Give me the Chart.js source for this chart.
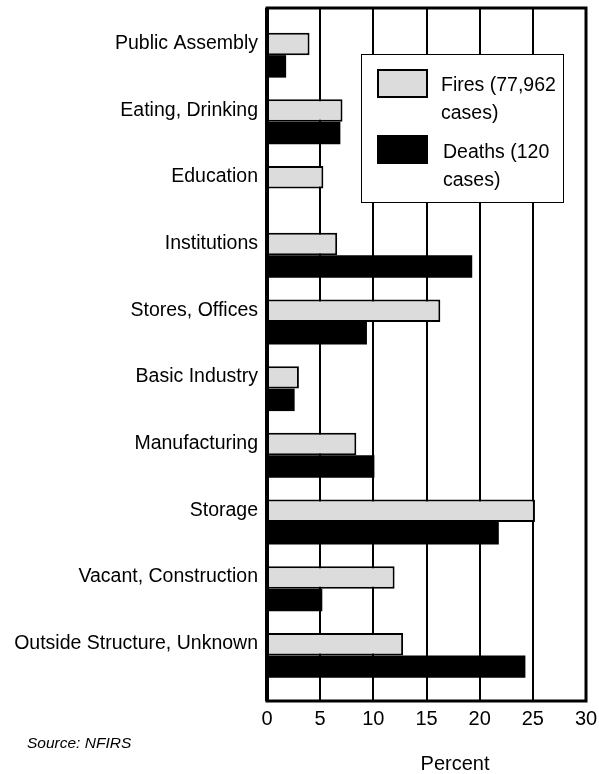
<!DOCTYPE html>
<html>
<head>
<meta charset="utf-8">
<script src="https://cdn.jsdelivr.net/npm/chart.js@4.4.1/dist/chart.umd.min.js"></script>
<style>
  html, body { margin: 0; padding: 0; background: #fff; }
  #wrap { width: 599px; height: 774px; position: relative; }
</style>
</head>
<body>
<div id="wrap"><canvas id="fireChart"></canvas></div>
<script>
// Categorias e valores (percentual)
const categories = [
  "Public Assembly",
  "Eating, Drinking",
  "Education",
  "Institutions",
  "Stores, Offices",
  "Basic Industry",
  "Manufacturing",
  "Storage",
  "Vacant, Construction",
  "Outside Structure, Unknown",
];
const firesPct = [4.0, 7.1, 5.3, 6.6, 16.3, 3.0, 8.4, 25.2, 12.0, 12.8];
const deathsPct = [1.8, 6.9, 0, 19.3, 9.4, 2.6, 10.1, 21.8, 5.2, 24.3];
const xTicks = [0, 5, 10, 15, 20, 25, 30];
const legendLines = [
  ["Fires (77,962", "cases)"],
  ["Deaths (120", "cases)"],
];

const FONT = "'Liberation Sans', Arial, sans-serif";

// moldura, legenda e textos extras
const extras = {
  id: "extras",
  afterDatasetsDraw(chart) {
    const { ctx, chartArea: a } = chart;
    ctx.save();
    ctx.strokeStyle = "#000";
    ctx.lineWidth = 3;
    ctx.strokeRect(a.left, a.top, a.right - a.left, a.bottom - a.top);
    ctx.lineWidth = 4;
    ctx.beginPath();
    ctx.moveTo(a.left, a.top);
    ctx.lineTo(a.left, a.bottom);
    ctx.stroke();

    // legenda
    ctx.fillStyle = "#fff";
    ctx.fillRect(361, 54.5, 203, 148);
    ctx.lineWidth = 1;
    ctx.strokeRect(361.5, 54.5, 202, 148);

    const colors = ["#dcdcdc", "#000"];
    const boxY = [69, 135];
    const textY = [[86, 114], [153, 181]];
    const textX = [441, 443];
    ctx.font = "19.5px " + FONT;
    ctx.textBaseline = "middle";
    ctx.textAlign = "left";
    legendLines.forEach((lines, i) => {
      ctx.fillStyle = colors[i];
      ctx.fillRect(377, boxY[i], 51, 29);
      ctx.strokeStyle = "#000";
      ctx.lineWidth = 2;
      ctx.strokeRect(378, boxY[i] + 1, 49, 27);
      ctx.fillStyle = "#000";
      lines.forEach((t, j) => ctx.fillText(t, textX[i], textY[i][j]));
    });

    ctx.font = "20px " + FONT;
    ctx.textAlign = "center";
    ctx.fillText("Percent", 455, 764);
    ctx.font = "italic 15.5px " + FONT;
    ctx.textAlign = "left";
    ctx.fillText("Source: NFIRS", 27, 744);
    ctx.restore();
  },
};

const ctxChart = document.getElementById("fireChart").getContext("2d");

const config = {
  type: "bar",
  data: {
    datasets: [
      {
        label: "Fires",
        data: firesPct.map((v, i) => ({ x: v, y: i })),
        backgroundColor: "#dcdcdc",
        borderColor: "#000",
        borderWidth: 2,
      },
      {
        label: "Deaths",
        data: deathsPct.map((v, i) => ({ x: v, y: i })),
        backgroundColor: "#000",
        borderWidth: 0,
      },
    ],
  },
  options: {
    indexAxis: "y",
    responsive: false,
    animation: false,
    categoryPercentage: 0.674,
    barPercentage: 1,
    layout: { padding: { top: 8, right: 13, left: 0, bottom: 0 } },
    plugins: { legend: { display: false }, tooltip: { enabled: false } },
    scales: {
      x: {
        type: "linear",
        min: 0,
        max: 30,
        afterBuildTicks: (axis) => {
          axis.ticks = xTicks.map((v) => ({ value: v }));
        },
        afterFit: (s) => {
          s.height = 73;
          s.paddingLeft = 0;
          s.paddingRight = 0;
        },
        grid: { color: "#000", lineWidth: 2, drawTicks: false },
        border: { display: false },
        ticks: {
          color: "#000",
          padding: 6,
          font: { family: FONT, size: 20 },
        },
      },
      y: {
        type: "linear",
        reverse: true,
        offset: false,
        min: -0.707,
        max: 9.684,
        afterBuildTicks: (axis) => {
          axis.ticks = categories.map((c, i) => ({ value: i }));
        },
        afterFit: (s) => {
          s.width = 267;
          s.paddingTop = 0;
          s.paddingBottom = 0;
        },
        grid: { display: false, drawTicks: false },
        border: { display: false },
        ticks: {
          color: "#000",
          padding: 9,
          labelOffset: -11.7,
          font: { family: FONT, size: 19.5 },
          callback: (v) => categories[v] ?? "",
        },
      },
    },
  },
  plugins: [extras],
};

const canvas = document.getElementById("fireChart");
canvas.width = 599;
canvas.height = 774;
const myChart = new Chart(ctxChart, config);
</script>
</body>
</html>
